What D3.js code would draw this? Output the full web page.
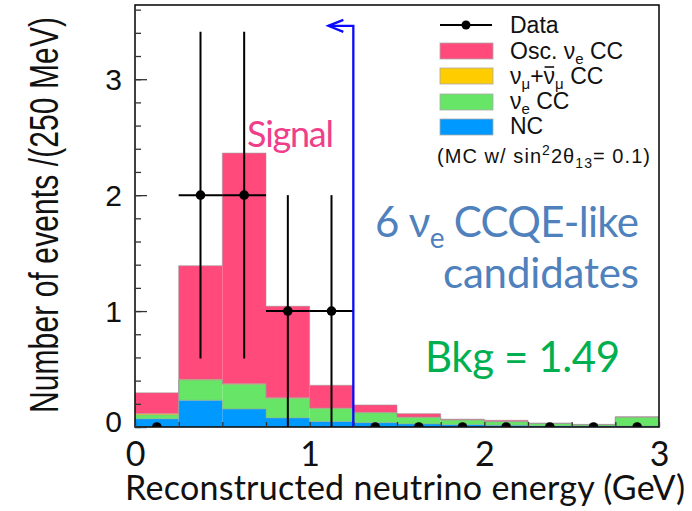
<!DOCTYPE html>
<html lang="en">
<head>
<meta charset="UTF-8">
<title>nue CCQE-like candidates</title>
<script src="https://d3js.org/d3.v7.min.js"></script>
<style>
    body { margin: 0; background: #fff; }
    .root { font-family: "Liberation Sans", Arial, Helvetica, sans-serif; }
    .ppt { font-family: Lato, "Open Sans", sans-serif; }
</style>
</head>
<body>
<svg id="fig" width="692" height="511"></svg>
<script>
    // 250 MeV bins, 0 - 3 GeV
    let binEdges = [0, 0.25, 0.5, 0.75, 1.0, 1.25, 1.5, 1.75, 2.0, 2.25, 2.5, 2.75, 3.0];
    // stacked MC components (events / bin)
    let ncEvents   = [0.070, 0.230, 0.155, 0.078, 0.047, 0.037, 0.026, 0.020, 0.015, 0.010, 0.008, 0.008];
    let nueEvents  = [0.035, 0.175, 0.213, 0.170, 0.113, 0.086, 0.057, 0.040, 0.031, 0.020, 0.012, 0.077];
    let numuEvents = [0.010, 0.006, 0.005, 0.004, 0.003, 0.003, 0.002, 0.002, 0.001, 0.001, 0.001, 0.001];
    let oscEvents  = [0.180, 0.980, 1.990, 0.790, 0.197, 0.064, 0.030, 0.006, 0.011, 0.003, 0.002, 0.002];
    // observed data
    let dataCounts = [0, 2, 2, 1, 1, 0, 0, 0, 0, 0, 0, 0];
    let dataErrors = [0, 1.41, 1.41, 1, 1, 0, 0, 0, 0, 0, 0, 0];
    // energy cut
    let cutEnergy = 1.25;
    let cutArrowTip = 1.107;
    let cutLevel = 3.46;

    let yMajor = [0, 1, 2, 3];
    let yMinor = d3.range(0, 3.61, 0.2);
    let xMajor = [0, 1, 2, 3];
    let xMinor = d3.range(0, 3.01, 0.25);

    let layerKeys = ["nc", "nue", "numu", "osc"];
    let layerColors = {nc: "#0099ff", nue: "#66e566", numu: "#ffcc00", osc: "#ff4a7b"};

    let svg = d3.select("#fig");
    let L = 135, R = 659, T = 5, B = 427;

    let x = d3.scaleLinear().domain([0, 3]).range([L, R]);
    let y = d3.scaleLinear().domain([0, 3.64]).range([B, T]);

    svg.append("clipPath").attr("id", "plotclip")
        .append("rect").attr("x", L).attr("y", T).attr("width", R - L).attr("height", B - T);

    // stacked histogram
    let rows = binEdges.slice(0, -1).map(function (e, i) {
        return {lo: e, hi: binEdges[i + 1], nc: ncEvents[i], nue: nueEvents[i], numu: numuEvents[i], osc: oscEvents[i]};
    });
    let stacked = d3.stack().keys(layerKeys)(rows);

    let hist = svg.append("g").attr("clip-path", "url(#plotclip)");
    stacked.forEach(function (layer) {
        hist.append("g").selectAll("rect")
            .data(layer)
            .join("rect")
            .attr("x", d => x(d.data.lo))
            .attr("width", d => x(d.data.hi) - x(d.data.lo))
            .attr("y", d => y(d[1]))
            .attr("height", d => y(d[0]) - y(d[1]))
            .attr("fill", layerColors[layer.key]);
    });
    let stepLine = d3.line().x(d => x(d[0])).y(d => y(d[1])).curve(d3.curveStepAfter);
    stacked.forEach(function (layer) {
        let pts = layer.map(d => [d.data.lo, d[1]]);
        pts.push([3, layer[layer.length - 1][1]]);
        hist.append("path").attr("d", stepLine(pts))
            .attr("fill", "none").attr("stroke", "#9a9a9a").attr("stroke-width", 0.8).attr("opacity", 0.7);
    });

    // data points
    let pts = svg.append("g").attr("clip-path", "url(#plotclip)");
    rows.forEach(function (r, i) {
        let cx = x((r.lo + r.hi) / 2);
        let v = dataCounts[i], e = dataErrors[i];
        if (e > 0) {
            pts.append("line").attr("x1", cx).attr("x2", cx)
                .attr("y1", y(v - e)).attr("y2", y(v + e))
                .attr("stroke", "#000").attr("stroke-width", 2);
            pts.append("line").attr("x1", x(r.lo)).attr("x2", x(r.hi))
                .attr("y1", y(v)).attr("y2", y(v))
                .attr("stroke", "#000").attr("stroke-width", 2);
        }
        pts.append("circle").attr("cx", cx).attr("cy", y(v)).attr("r", 4.8).attr("fill", "#000");
    });

    // cut line with arrow
    let cut = svg.append("g").attr("stroke", "#0a0aff").attr("stroke-width", 2.3).attr("fill", "none");
    cut.append("path").attr("d", d3.line()([[x(cutEnergy), y(0)], [x(cutEnergy), y(cutLevel)], [x(cutArrowTip), y(cutLevel)]]));
    cut.append("path").attr("d", d3.line()([[x(cutArrowTip) + 15, y(cutLevel) - 6], [x(cutArrowTip), y(cutLevel)], [x(cutArrowTip) + 15, y(cutLevel) + 6]]));

    // frame
    svg.append("rect").attr("x", L).attr("y", T).attr("width", R - L).attr("height", B - T)
        .attr("fill", "none").attr("stroke", "#111").attr("stroke-width", 1.6);

    // y ticks (inside)
    let yTickG = svg.append("g").attr("transform", `translate(${L},0)`);
    yTickG.append("g").call(d3.axisRight(y).tickValues(yMinor).tickSize(6).tickFormat(""))
        .call(g => g.select(".domain").remove());
    yTickG.append("g").call(d3.axisRight(y).tickValues(yMajor).tickSize(12).tickFormat(""))
        .call(g => g.select(".domain").remove());
    svg.selectAll(".tick line").attr("stroke", "#333").attr("stroke-width", 1.3);

    // x ticks (inside)
    let xTickG = svg.append("g").attr("transform", `translate(0,${B})`);
    xTickG.append("g").call(d3.axisTop(x).tickValues(xMinor).tickSize(5).tickFormat(""))
        .call(g => g.select(".domain").remove());
    xTickG.selectAll(".tick line").attr("stroke", "#333").attr("stroke-width", 1.3);

    // y tick labels
    let yLab = svg.append("g").attr("class", "root").attr("transform", "translate(122,0)")
        .call(d3.axisLeft(y).tickValues(yMajor).tickSize(0).tickPadding(0).tickFormat(d3.format("d")));
    yLab.select(".domain").remove();
    yLab.selectAll("text").attr("font-family", "Liberation Sans, Arial, sans-serif")
        .attr("font-size", 30).attr("fill", "#111")
        .attr("dy", d => d === 0 ? "0.15em" : "0.35em");

    // x tick labels
    let xLab = svg.append("g").attr("transform", `translate(0,${B + 12})`)
        .call(d3.axisBottom(x).tickValues(xMajor).tickSize(0).tickPadding(0).tickFormat(d3.format("d")));
    xLab.select(".domain").remove();
    xLab.selectAll("text").attr("font-family", "Lato, 'Open Sans', sans-serif")
        .attr("font-size", 34).attr("fill", "#111").attr("dy", "0.78em");

    // axis titles
    svg.append("text").attr("class", "root")
        .attr("transform", "translate(58,215) rotate(-90) scale(1,1.33)")
        .attr("text-anchor", "middle").attr("font-size", 30).attr("fill", "#111")
        .attr("textLength", 396)
        .text("Number of events /(250 MeV)");

    svg.append("text").attr("class", "ppt")
        .attr("x", 125).attr("y", 500).attr("font-size", 34).attr("fill", "#111")
        .attr("textLength", 560)
        .text("Reconstructed neutrino energy (GeV)");

    // legend
    let leg = svg.append("g").attr("class", "root").attr("font-size", 23).attr("fill", "#111");
    leg.append("line").attr("x1", 440).attr("x2", 492).attr("y1", 25).attr("y2", 25)
        .attr("stroke", "#000").attr("stroke-width", 2);
    leg.append("circle").attr("cx", 466).attr("cy", 25).attr("r", 4.5).attr("fill", "#000");
    leg.append("text").attr("x", 510).attr("y", 33).text("Data");

    let swatchY = [43, 68, 94, 119];
    let swatchKeys = ["osc", "numu", "nue", "nc"];
    swatchKeys.forEach(function (k, i) {
        leg.append("rect").attr("x", 440).attr("y", swatchY[i]).attr("width", 53).attr("height", 16)
            .attr("fill", layerColors[k]).attr("stroke", "#aaa").attr("stroke-width", 0.8);
    });

    let t1 = leg.append("text").attr("x", 510).attr("y", 59);
    t1.append("tspan").text("Osc. ν");
    t1.append("tspan").attr("font-size", 15).attr("dy", 5).text("e");
    t1.append("tspan").attr("dy", -5).text(" CC");

    let t2 = leg.append("text").attr("x", 510).attr("y", 84);
    t2.append("tspan").text("ν");
    t2.append("tspan").attr("font-size", 15).attr("dy", 5).text("μ");
    t2.append("tspan").attr("dy", -5).text("+");
    t2.append("tspan").text("ν");
    t2.append("tspan").attr("font-size", 15).attr("dy", 5).text("μ");
    t2.append("tspan").attr("dy", -5).text(" CC");
    // bar over the anti-neutrino
    let bx = t2.node().getExtentOfChar(3);
    leg.append("line").attr("x1", bx.x + 1).attr("x2", bx.x + bx.width - 1)
        .attr("y1", 67).attr("y2", 67).attr("stroke", "#111").attr("stroke-width", 1.6);

    let t3 = leg.append("text").attr("x", 510).attr("y", 109);
    t3.append("tspan").text("ν");
    t3.append("tspan").attr("font-size", 15).attr("dy", 5).text("e");
    t3.append("tspan").attr("dy", -5).text(" CC");

    leg.append("text").attr("x", 510).attr("y", 134).text("NC");

    let t4 = leg.append("text").attr("x", 437).attr("y", 163).attr("font-size", 20)
        .attr("textLength", 213);
    t4.append("tspan").text("(MC w/ sin");
    t4.append("tspan").attr("font-size", 14).attr("dy", -8).text("2");
    t4.append("tspan").attr("dy", 8).text("2θ");
    t4.append("tspan").attr("font-size", 14).attr("dy", 5).text("13");
    t4.append("tspan").attr("dy", -5).text("= 0.1)");

    // annotations
    svg.append("text").attr("class", "ppt").attr("x", 247).attr("y", 147)
        .attr("font-size", 36).attr("fill", "#ef3f8a").attr("textLength", 87).text("Signal");

    let a1 = svg.append("text").attr("class", "ppt").attr("x", 375).attr("y", 237)
        .attr("font-size", 42).attr("fill", "#4f81bd").attr("textLength", 264);
    a1.append("tspan").text("6 ν");
    a1.append("tspan").attr("font-size", 28).attr("dy", 11).text("e");
    a1.append("tspan").attr("dy", -11).text(" CCQE-like");

    svg.append("text").attr("class", "ppt").attr("x", 443).attr("y", 288)
        .attr("font-size", 42).attr("fill", "#4f81bd").attr("textLength", 196).text("candidates");

    svg.append("text").attr("class", "ppt").attr("x", 425).attr("y", 372)
        .attr("font-size", 42).attr("fill", "#00b050").attr("textLength", 195).text("Bkg = 1.49");
</script>
</body>
</html>
